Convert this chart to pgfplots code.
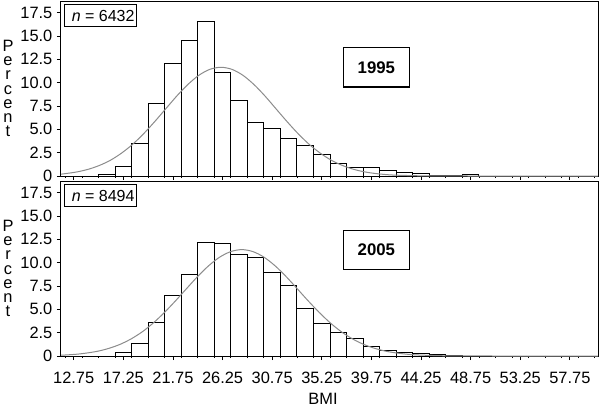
\documentclass[border=0pt]{standalone}
\usepackage{fontspec}
\setmainfont{Liberation Sans}
\usepackage{pgfplots}
\pgfplotsset{compat=1.18}

\newcommand{\lab}{\fontsize{8.2}{9.5}\selectfont}

\pgfplotsset{
  bmipanel/.style={
    scale only axis, width=268.5pt, height=87.5pt,
    xmin=11.6, xmax=60.3, ymin=0, ymax=18.75,
    clip=false,
    axis line style={line width=0.5pt},
    tick align=outside, major tick length=2pt, minor tick length=1pt,
    tick style={black, line width=0.4pt},
    xtick pos=bottom, ytick pos=left,
    xtick={12.75,17.25,21.75,26.25,30.75,35.25,39.75,44.25,48.75,53.25,57.75},
    minor xtick={12,13.5,...,60},
    ytick={0,2.5,5,7.5,10,12.5,15,17.5},
    yticklabels={0,2.5,5.0,7.5,10.0,12.5,15.0,17.5},
    ticklabel style={font=\lab},
    /pgf/number format/assume math mode=true,
    yticklabel style={xshift=1.2pt},
    xticklabel style={yshift=-2.6pt},
  },
  bars/.style={ybar, bar width=1.5, bar shift=0pt, fill=white, draw=black, line width=0.5pt},
  fit/.style={black!45, line width=0.5pt, smooth, no markers},
}

\begin{document}
\begin{tikzpicture}
\useasboundingbox (-30.5pt,-116.5pt) rectangle (269.5pt,88pt);

% 1995
\begin{axis}[bmipanel, at={(0pt,0pt)}, xticklabels={}]
\addplot[bars] coordinates {
 (15.75,0.2) (17.25,1.0) (18.75,3.5) (20.25,7.8) (21.75,12.1) (23.25,14.5)
 (24.75,16.6) (26.25,11.1) (27.75,8.1) (29.25,5.7) (30.75,5.1) (32.25,4.05)
 (33.75,3.24) (35.25,2.31) (36.75,1.35) (38.25,0.92) (39.75,0.87) (41.25,0.62)
 (42.75,0.39) (44.25,0.28) (45.75,0.1) (47.25,0.1) (48.75,0.2)};
\addplot[fit] coordinates {
 (11.6,0.20) (12.1,0.27) (13.1,0.45) (14.1,0.73) (15.1,1.14) (16.1,1.70)
 (17.1,2.46) (18.1,3.40) (19.1,4.54) (20.1,5.83) (21.1,7.20) (22.1,8.57)
 (23.1,9.80) (24.1,10.79) (25.1,11.43) (26.1,11.65) (27.1,11.43) (28.1,10.79)
 (29.1,9.80) (30.1,8.57) (31.1,7.20) (32.1,5.83) (33.1,4.54) (34.1,3.40)
 (35.1,2.46) (36.1,1.70) (37.1,1.14) (38.1,0.73) (39.1,0.45) (40.1,0.27)
 (41.1,0.15) (42.1,0.085) (44.1,0.023) (46.1,0.005) (50,0) (60.3,0)};
\node[draw, line width=0.5pt, anchor=north west, inner xsep=1pt, inner ysep=0pt,
      minimum height=11pt, font=\fontsize{8}{9}\selectfont]
  at (rel axis cs:0,1) [xshift=1.65pt, yshift=-1.5pt] {\hspace*{2.5pt}\textit{n} = 6432};
\node[draw, line width=0.6pt, minimum width=33pt, minimum height=19.7pt,
      font=\fontsize{8.4}{10}\selectfont\bfseries] at (axis cs:40.2,11.65) {1995};
\node[align=center, font=\fontsize{8.2}{7.1}\selectfont, xshift=-26.5pt]
  at (rel axis cs:0,0.5) {P\\e\\r\\c\\e\\n\\t};
\end{axis}

% 2005
\begin{axis}[bmipanel, at={(0pt,-90pt)},
  xticklabels={12.75,17.25,21.75,26.25,30.75,35.25,39.75,44.25,48.75,53.25,57.75}]
\addplot[bars] coordinates {
 (17.25,0.4) (18.75,1.33) (20.25,3.6) (21.75,6.5) (23.25,8.75) (24.75,12.2)
 (26.25,12.1) (27.75,10.85) (29.25,10.55) (30.75,8.9) (32.25,7.55) (33.75,5.1)
 (35.25,3.48) (36.75,2.57) (38.25,1.87) (39.75,1.05) (41.25,0.62) (42.75,0.35)
 (44.25,0.3) (45.75,0.18) (47.25,0.1)};
\addplot[fit] coordinates {
 (11.6,0.087) (12,0.11) (13,0.19) (14,0.33) (15,0.53) (16,0.84) (17,1.27)
 (18,1.86) (19,2.62) (20,3.57) (21,4.69) (22,5.93) (23,7.24) (24,8.53)
 (25,9.68) (26,10.60) (27,11.19) (28,11.40) (29,11.19) (30,10.60) (31,9.68)
 (32,8.53) (33,7.24) (34,5.93) (35,4.69) (36,3.57) (37,2.62) (38,1.86)
 (39,1.27) (40,0.84) (41,0.53) (42,0.33) (43,0.19) (44,0.11) (46,0.032)
 (48,0.008) (52,0) (60.3,0)};
\node[draw, line width=0.5pt, anchor=north west, inner xsep=1pt, inner ysep=0pt,
      minimum height=11pt, font=\fontsize{8}{9}\selectfont]
  at (rel axis cs:0,1) [xshift=1.65pt, yshift=-1.5pt] {\hspace*{2.5pt}\textit{n} = 8494};
\node[draw, line width=0.6pt, minimum width=33pt, minimum height=19.7pt,
      font=\fontsize{8.4}{10}\selectfont\bfseries] at (axis cs:40.2,11.37) {2005};
\node[align=center, font=\fontsize{8.2}{7.1}\selectfont, xshift=-26.5pt]
  at (rel axis cs:0,0.5) {P\\e\\r\\c\\e\\n\\t};
\node[anchor=north, inner sep=0pt, font=\fontsize{8.2}{9.5}\selectfont]
  at (rel axis cs:0.488,0) [yshift=-18.5pt] {BMI};
\end{axis}
\end{tikzpicture}
\end{document}
